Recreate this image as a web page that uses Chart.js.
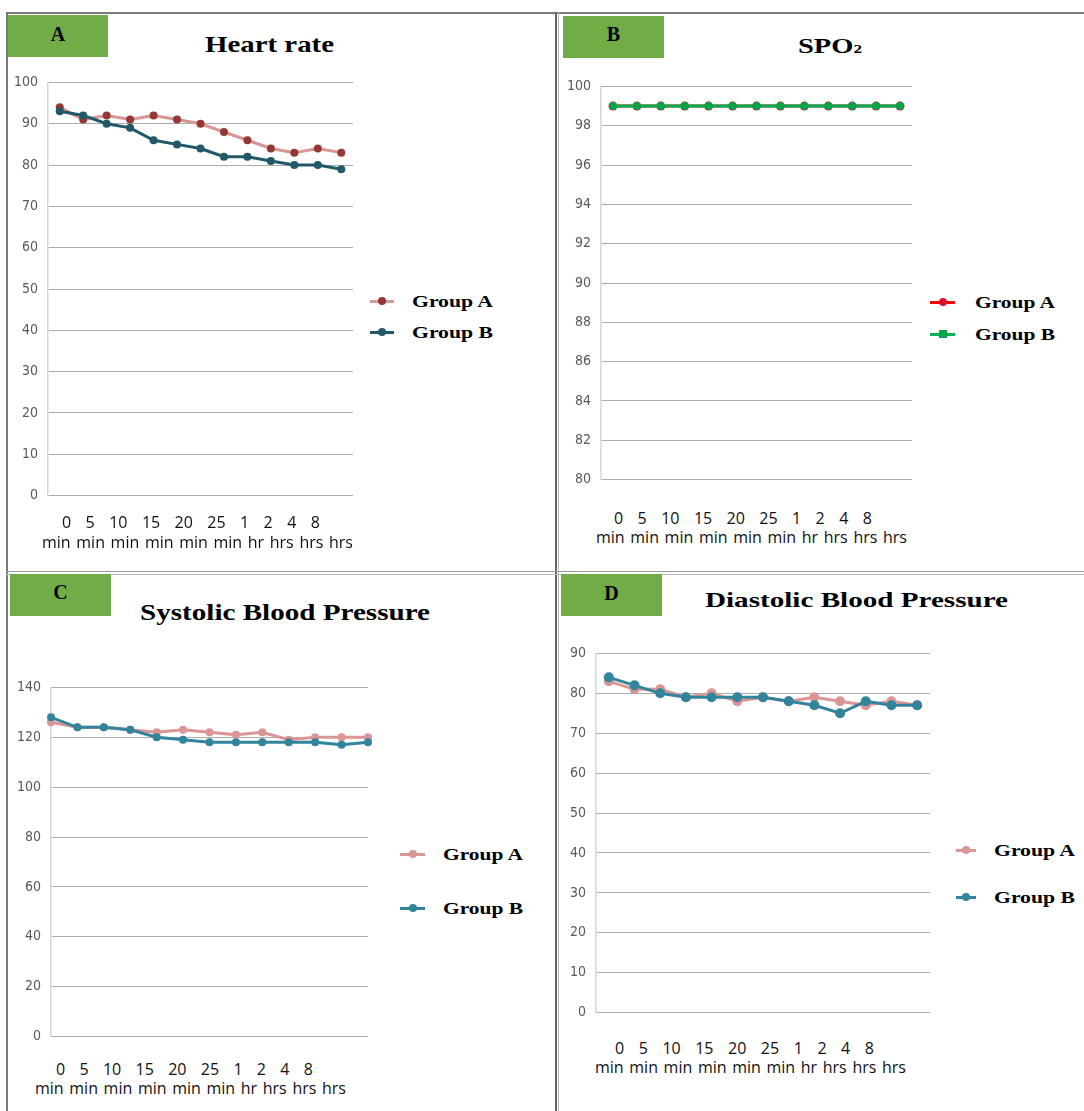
<!DOCTYPE html>
<html>
<head>
<meta charset="utf-8">
<script src="https://cdn.jsdelivr.net/npm/chart.js@4.4.1/dist/chart.umd.min.js"></script>
<style>
  body { margin: 0; background: #fff; width: 1084px; height: 1111px; position: relative; overflow: hidden; }
  .line { position: absolute; background: #7a7a7a; }
  .tag { position: absolute; background: #70AD47; }
  .tag span { position: absolute; left: 0; right: 0; text-align: center; font: bold 20px "Liberation Serif", serif; line-height: 1; color: #000; }
  .title, .leg { position: absolute; font-family: "Liberation Serif", serif; font-weight: bold; line-height: 1; white-space: nowrap; color: #000; transform-origin: 0 50%; }
  .title sub { font-size: 0.6em; vertical-align: baseline; }
  .sw { position: absolute; height: 3px; }
  .dot { position: absolute; width: 8px; height: 8px; border-radius: 50%; }
  .xrow { position: absolute; display: flex; justify-content: space-between; font: 16px "Open Sans", sans-serif; line-height: 1; color: #111; }
</style>
</head>
<body>
<script>
// time points shown under each chart (the original only lists 10 labels for 13 points)
const timeLabels = ["0", "5", "10", "15", "20", "25", "1", "2", "4", "8"];
const timeUnits = ["min", "min", "min", "min", "min", "min", "hr", "hrs", "hrs", "hrs"];
const categories = ["0 min", "5 min", "10 min", "15 min", "20 min", "25 min", "1 hr", "2 hrs", "4 hrs", "8 hrs", "", "", ""];

const heartA = [94, 91, 92, 91, 92, 91, 90, 88, 86, 84, 83, 84, 83];
const heartB = [93, 92, 90, 89, 86, 85, 84, 82, 82, 81, 80, 80, 79];
const spoA = [99, 99, 99, 99, 99, 99, 99, 99, 99, 99, 99, 99, 99];
const spoB = [99, 99, 99, 99, 99, 99, 99, 99, 99, 99, 99, 99, 99];
const sysA = [126, 124, 124, 123, 122, 123, 122, 121, 122, 119, 120, 120, 120];
const sysB = [128, 124, 124, 123, 120, 119, 118, 118, 118, 118, 118, 117, 118];
const diaA = [83, 81, 81, 79, 80, 78, 79, 78, 79, 78, 77, 78, 77];
const diaB = [84, 82, 80, 79, 79, 79, 79, 78, 77, 75, 78, 77, 77];

const panels = [
  {
    tag: "A", tagBox: [8, 15, 100, 42], tagCy: 34,
    title: "Heart rate", titleX: [205, 334], titleCy: 44, titleSize: 24,
    plot: [48, 82, 353, 496], offset: true, min: 0, max: 100, step: 10,
    series: [
      { name: "Group A", data: heartA, line: "#D99694", dot: "#953735", r: 4 },
      { name: "Group B", data: heartB, line: "#215968", dot: "#215968", r: 4 },
    ],
    legend: { sw: [370, 24], text: [412, 493], ys: [301, 332] },
    rows: { x1: [62, 320], x2: [42, 353], ys: [522, 544] },
  },
  {
    tag: "B", tagBox: [563, 16, 101, 42], tagCy: 33.5,
    title: "SPO<sub>2</sub>", titleX: [798, 862], titleCy: 46.5, titleSize: 21,
    plot: [601, 86, 912, 480], offset: true, min: 80, max: 100, step: 2,
    series: [
      { name: "Group A", data: spoA, line: "#FF0000", dot: "#E0102A", r: 4.5 },
      { name: "Group B", data: spoB, line: "#00B050", dot: "#00A44A", r: 4, square: true },
    ],
    legend: { sw: [930, 25], text: [975, 1055], ys: [302, 334] },
    rows: { x1: [614, 872], x2: [596, 907], ys: [518, 539] },
  },
  {
    tag: "C", tagBox: [10, 574, 101, 42], tagCy: 592,
    title: "Systolic Blood Pressure", titleX: [140, 430], titleCy: 612.5, titleSize: 23,
    plot: [51, 687, 368, 1037], offset: false, min: 0, max: 140, step: 20,
    series: [
      { name: "Group A", data: sysA, line: "#DA9694", dot: "#DA9694", r: 4 },
      { name: "Group B", data: sysB, line: "#31849B", dot: "#31849B", r: 4 },
    ],
    legend: { sw: [400, 25], text: [443, 523], ys: [854, 908] },
    rows: { x1: [56, 313], x2: [35, 346], ys: [1069, 1090] },
  },
  {
    tag: "D", tagBox: [561, 574, 101, 42], tagCy: 592.5,
    title: "Diastolic Blood Pressure", titleX: [705, 1008], titleCy: 600, titleSize: 22,
    plot: [596, 653, 930, 1013], offset: true, min: 0, max: 90, step: 10,
    series: [
      { name: "Group A", data: diaA, line: "#DA9694", dot: "#DA9694", r: 5 },
      { name: "Group B", data: diaB, line: "#31849B", dot: "#31849B", r: 5 },
    ],
    legend: { sw: [956, 20], text: [994, 1075], ys: [850, 897] },
    rows: { x1: [615, 874], x2: [595, 906], ys: [1048, 1069] },
  },
];

function add(cls, css, html) {
  const el = document.createElement("div");
  el.className = cls;
  el.style.cssText = css;
  if (html !== undefined) el.innerHTML = html;
  document.body.appendChild(el);
  return el;
}

// stretch text horizontally so it covers [x0, x1]
function fit(el, x0, x1) {
  const w = el.getBoundingClientRect().width;
  el.style.transform = `scaleX(${(x1 - x0) / w})`;
}

// panel frame
add("line", "left:6px;top:12px;width:1078px;height:2px");
add("line", "left:6px;top:12px;width:2px;height:1099px");
add("line", "left:555px;top:12px;width:2px;height:1099px;background:#666");
add("line", "left:558px;top:12px;width:1px;height:1099px;background:#bbb");
add("line", "left:6px;top:571px;width:1078px;height:1px;background:#999");
add("line", "left:6px;top:574px;width:1078px;height:1px;background:#bbb");

function chartConfig(p) {
  return {
    type: "line",
    data: {
      labels: categories,
      datasets: p.series.map((s, i) => ({
        label: s.name,
        data: s.data,
        borderColor: s.line,
        backgroundColor: s.dot,
        pointBackgroundColor: s.dot,
        pointBorderColor: s.dot,
        pointBorderWidth: 0,
        pointRadius: s.r,
        borderWidth: 3,
        tension: 0,
        clip: false,
        order: p.series.length - i, // Group B drawn on top
      })),
    },
    options: {
      responsive: false,
      animation: false,
      devicePixelRatio: 1,
      layout: { padding: { top: 10, bottom: 10, right: 6, left: 0 } },
      plugins: { legend: { display: false }, tooltip: { enabled: false } },
      scales: {
        x: { display: false, offset: p.offset },
        y: {
          min: p.min,
          max: p.max,
          ticks: {
            stepSize: p.step,
            color: "#595959",
            padding: 10,
            font: { family: '"Liberation Sans Narrow", "Arial Narrow", "DejaVu Sans Condensed", sans-serif', size: 14 },
          },
          grid: { color: "#ABABAB", drawTicks: false },
          border: { color: "#D6D6D6", width: 1.5 },
          afterFit: (s) => { s.width = 50; },
        },
      },
    },
  };
}

function makeChart(p) {
  const [x0, y0, x1, y1] = p.plot;
  let w = x1 - x0 + 56;
  let h = y1 - y0 + 20;
  const c = document.createElement("canvas");
  document.body.appendChild(c);
  c.width = w;
  c.height = h;
  // first pass: find how much room the axis takes, then size the canvas so the plot lands on p.plot
  let chart = new Chart(c, chartConfig(p));
  const ca = chart.chartArea;
  const left = ca.left, top = ca.top, right = w - ca.right, bottom = h - ca.bottom;
  chart.destroy();
  w = x1 - x0 + left + right;
  h = y1 - y0 + top + bottom;
  c.width = w;
  c.height = h;
  c.style.cssText = `position:absolute;left:${x0 - left}px;top:${y0 - top}px;width:${w}px;height:${h}px`;
  chart = new Chart(c, chartConfig(p));
}

for (const p of panels) {
  const [tx, ty, tw, th] = p.tagBox;
  const tag = add("tag", `left:${tx}px;top:${ty}px;width:${tw}px;height:${th}px`);
  const letter = document.createElement("span");
  letter.textContent = p.tag;
  letter.style.top = p.tagCy - ty - 10 + "px";
  tag.appendChild(letter);

  const t = add("title", `left:${p.titleX[0]}px;top:${p.titleCy - p.titleSize / 2}px;font-size:${p.titleSize}px`, p.title);
  fit(t, p.titleX[0], p.titleX[1]);

  makeChart(p);

  p.series.forEach((s, i) => {
    const y = p.legend.ys[i];
    add("sw", `left:${p.legend.sw[0]}px;top:${y - 1.5}px;width:${p.legend.sw[1]}px;background:${s.line}`);
    const d = add("dot", `left:${p.legend.sw[0] + p.legend.sw[1] / 2 - 4}px;top:${y - 4}px;background:${s.dot}`);
    if (s.square) d.style.borderRadius = "0";
    const l = add("leg", `left:${p.legend.text[0]}px;top:${y - 8.5}px;font-size:17px`, s.name);
    fit(l, p.legend.text[0], p.legend.text[1]);
  });

  const r1 = add("xrow", `left:${p.rows.x1[0]}px;top:${p.rows.ys[0] - 8.5}px;width:${p.rows.x1[1] - p.rows.x1[0]}px`);
  r1.innerHTML = timeLabels.map((v) => `<span>${v}</span>`).join("");
  const r2 = add("xrow", `left:${p.rows.x2[0]}px;top:${p.rows.ys[1] - 10}px;width:${p.rows.x2[1] - p.rows.x2[0]}px`);
  r2.innerHTML = timeUnits.map((v) => `<span>${v}</span>`).join("");
}
</script>
</body>
</html>
